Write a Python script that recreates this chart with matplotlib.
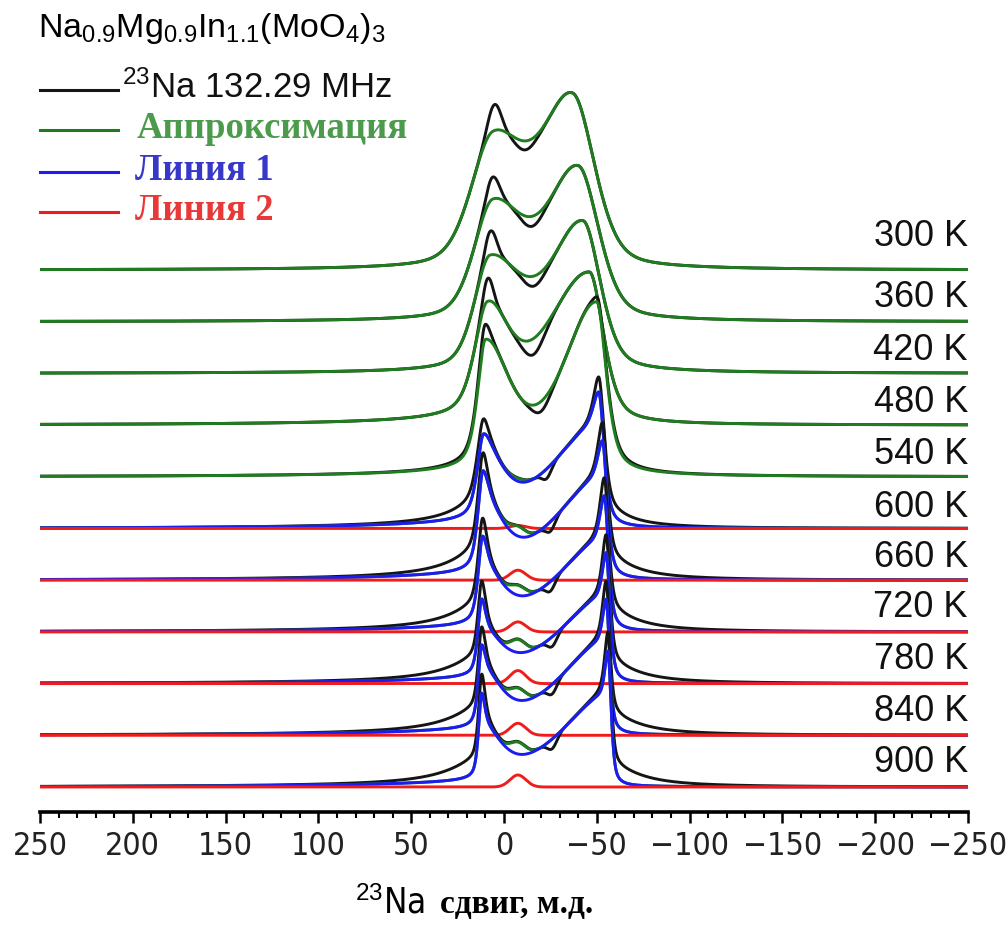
import numpy as np
import matplotlib
matplotlib.use("Agg")
import matplotlib.pyplot as plt
from matplotlib.lines import Line2D
from matplotlib import font_manager as fm

plt.rcParams['mathtext.fontset'] = 'custom'
plt.rcParams['mathtext.rm'] = 'Liberation Sans'
plt.rcParams['mathtext.it'] = 'Liberation Sans:italic'
plt.rcParams['mathtext.bf'] = 'Liberation Sans:bold'

# ---------------- data ----------------
temperatures = ["300 K", "360 K", "420 K", "480 K", "540 K", "600 K",
                "660 K", "720 K", "780 K", "840 K", "900 K"]
label_lift = [33, 24, 23, 23, 22, 21, 23, 24, 24, 24, 25]

# Line 1 (= fit at low T): two horns, each a broad asymmetric part plus a sharp spike
horn1_pos = [6, 6, 7.5, 9, 10, 11, 11.3, 11.5, 12, 12, 12]
horn1_amp = [124, 112, 108, 103, 125, 70, 70, 56, 45, 56, 52]
horn1_out = [14, 12, 10, 8, 5, 4, 3.2, 2.8, 2.4, 2.2, 2.0]
horn1_in = [20, 20, 21, 14, 16, 12, 12, 12, 12, 12, 12]
spike1_amp = [0, 0, 0, 0, 0, 11, 27, 29, 30, 24, 32]
horn2_pos = [-37, -40, -42.6, -46, -50, -51, -53, -54, -55, -55, -56]
horn2_amp = [166, 148, 145, 150, 170, 101, 100, 90, 85, 92, 90]
horn2_in = [20, 20, 21, 28, 22, 30, 30, 30, 30, 30, 30]
horn2_out = [14, 13, 11, 9, 6, 3.5, 3.0, 2.7, 2.4, 2.2, 2.0]
spike2_amp = [0, 0, 0, 0, 0, 34, 38, 45, 45, 43, 45]
lorentz_frac = [0.35, 0.35, 0.4, 0.5, 0.6, 0.6, 0.6, 0.6, 0.6, 0.6, 0.6]

# Line 2
line2_pos = [-7.5] * 11
line2_amp = [0, 0, 0, 0, 0, 3, 10, 10, 13, 12, 12]
line2_w = [5] * 11

# experimental spectrum: deviations from the fit
exp_peak_pos = [5, 6, 7, 8.5, 10, 10.5, 11, 11, 11.5, 11.5, 11.5]
exp_peak_amp = [26, 22, 24, 23, 10, 0, 0, 0, 0, 0, 0]
exp_peak_w = [4, 4, 3.5, 3, 3, 3, 3, 3, 3, 3, 3]
exp_dip_pos = [-11, -15, -16, -16, -20, -23, -25, -25, -26, -26, -26]
exp_dip_amp = [9, 10, 10, 16, 10, 10, 10, 10, 10, 10, 10]
exp_dip_w = [6, 6, 6, 6, 5, 3, 3, 3, 3, 3, 3]
exp_wing_amp = [0, 0, 0, 0, 5, 15, 18, 18, 18, 18, 19]
exp_wing_w = [15, 15, 15, 15, 15, 18, 20, 20, 20, 20, 20]

show_components = [False, False, False, False, False,
                   True, True, True, True, True, True]

xtick_values = [250, 200, 150, 100, 50, 0, -50, -100, -150, -200, -250]
xtick_labels = ["250", "200", "150", "100", "50", "0", "\u221250",
                "\u2212100", "\u2212150", "\u2212200", "\u2212250"]

ROW_STEP = 51.7

C_EXP = "#151515"
C_FIT = "#1f7d1f"
C_L1 = "#1c1cf2"
C_L2 = "#f01c1c"


def pv(x, c, h, w_hi, w_lo, eta):
    w = np.where(x >= c, w_hi, w_lo)
    r2 = ((x - c) / w) ** 2
    return h * (eta / (1.0 + r2) + (1.0 - eta) * np.exp(-np.log(2.0) * r2))


# narrow sans font for the axis numbers, if one is installed
narrow_file = None
for f in fm.fontManager.ttflist:
    if f.name in ("Liberation Sans Narrow", "Arial Narrow") and f.style == 'normal' and f.weight in (400, 'normal', 'regular'):
        narrow_file = f.fname
        break
if narrow_file is None:
    for f in fm.fontManager.ttflist:
        if f.name == "DejaVu Sans" and 'condensed' in str(f.stretch) and f.style == 'normal' \
                and f.weight in (400, 'normal', 'book', 'regular'):
            narrow_file = f.fname
            break
if narrow_file is not None:
    tick_fp = fm.FontProperties(fname=narrow_file, size=23)
    na_fp = fm.FontProperties(fname=narrow_file, size=25)
else:
    tick_fp = fm.FontProperties(family='Liberation Sans', size=20)
    na_fp = fm.FontProperties(family='Liberation Sans', size=21)

W, H = 1008, 934
fig = plt.figure(figsize=(W / 100, H / 100), dpi=100)
ax = fig.add_axes([40 / W, (H - 812) / H, 928 / W, 772 / H])

ppm = np.linspace(250, -250, 5001)
n = len(temperatures)
for i in range(n):
    off = (n - 1 - i) * ROW_STEP
    et = lorentz_frac[i]
    l1 = (pv(ppm, horn1_pos[i], horn1_amp[i], horn1_out[i], horn1_in[i], et)
          + pv(ppm, horn1_pos[i], spike1_amp[i], horn1_out[i], horn1_out[i], et)
          + pv(ppm, horn2_pos[i], horn2_amp[i], horn2_in[i], horn2_out[i], et)
          + pv(ppm, horn2_pos[i], spike2_amp[i], horn2_out[i], horn2_out[i], et))
    l2 = pv(ppm, line2_pos[i], line2_amp[i], line2_w[i], line2_w[i], 0.0)
    fit = l1 + l2
    exp = (fit
           + pv(ppm, exp_peak_pos[i], exp_peak_amp[i], exp_peak_w[i], exp_peak_w[i], 0.0)
           - pv(ppm, exp_dip_pos[i], exp_dip_amp[i], exp_dip_w[i], exp_dip_w[i], 0.0)
           + pv(ppm, horn1_pos[i], exp_wing_amp[i], exp_wing_w[i], 3, 1.0)
           + pv(ppm, horn2_pos[i], exp_wing_amp[i], 3, exp_wing_w[i], 1.0))
    ax.plot(ppm, off + exp, color=C_EXP, lw=2.1, solid_joinstyle='round')
    ax.plot(ppm, off + fit, color=C_FIT, lw=2.1)
    if show_components[i]:
        ax.plot(ppm, off + l1, color=C_L1, lw=2.1)
        ax.plot(ppm, off + l2, color=C_L2, lw=2.1)
    ax.text(-250, off + label_lift[i], temperatures[i], ha='right', va='center',
            fontsize=26, family=['Liberation Sans', 'DejaVu Sans'], color='#111111')

ax.set_xlim(250, -250)
ax.set_ylim(-25, 747)
for s in ('top', 'right', 'left'):
    ax.spines[s].set_visible(False)
ax.spines['bottom'].set_linewidth(2.6)
ax.set_yticks([])
ax.set_xticks(xtick_values)
ax.set_xticklabels(xtick_labels)
ax.set_xticks(np.arange(-250, 251, 10), minor=True)
ax.tick_params(axis='x', which='major', direction='out', length=8, width=1.8, pad=6)
ax.tick_params(axis='x', which='minor', direction='out', length=4.5, width=1.5)
for lab in ax.get_xticklabels():
    lab.set_fontproperties(tick_fp)
    lab.set_color('#222222')

# axis title
fig.text(425 / W, 1 - 913 / H, r"$^{23}$Na", ha='right', va='baseline',
         fontproperties=na_fp)
fig.text(440 / W, 1 - 913 / H, "сдвиг, м.д.", ha='left', va='baseline', fontsize=24,
         family=['Liberation Serif', 'DejaVu Serif'], fontweight='bold')

# legend block
fig.text(38 / W, 1 - 28 / H, r"Na$_{0.9}$Mg$_{0.9}$In$_{1.1}$(MoO$_4$)$_3$",
         ha='left', va='center', fontsize=24.5, family=['Liberation Sans', 'DejaVu Sans'])
legend_rows = [
    (90, C_EXP, r"$^{23}$Na 132.29 MHz", 122, '#111111', 'sans'),
    (130, C_FIT, "Аппроксимация", 137, '#4c9a4c', 'serif'),
    (172, C_L1, "Линия 1", 135, '#3838c8', 'serif'),
    (212, C_L2, "Линия 2", 135, '#e83838', 'serif'),
]
for y, lc, txt, tx, tc, kind in legend_rows:
    fig.add_artist(Line2D([40 / W, 118 / W], [1 - y / H, 1 - y / H], color=lc, lw=2.2,
                          transform=fig.transFigure))
    if kind == 'sans':
        fig.text(tx / W, 1 - (y - 2) / H, txt, ha='left', va='center', fontsize=25,
                 family=['Liberation Sans', 'DejaVu Sans'], color=tc)
    else:
        fig.text(tx / W, 1 - (y - 1) / H, txt, ha='left', va='center', fontsize=26.5,
                 family=['Liberation Serif', 'DejaVu Serif'], fontweight='bold', color=tc)

fig.savefig("out.png", dpi=100)
